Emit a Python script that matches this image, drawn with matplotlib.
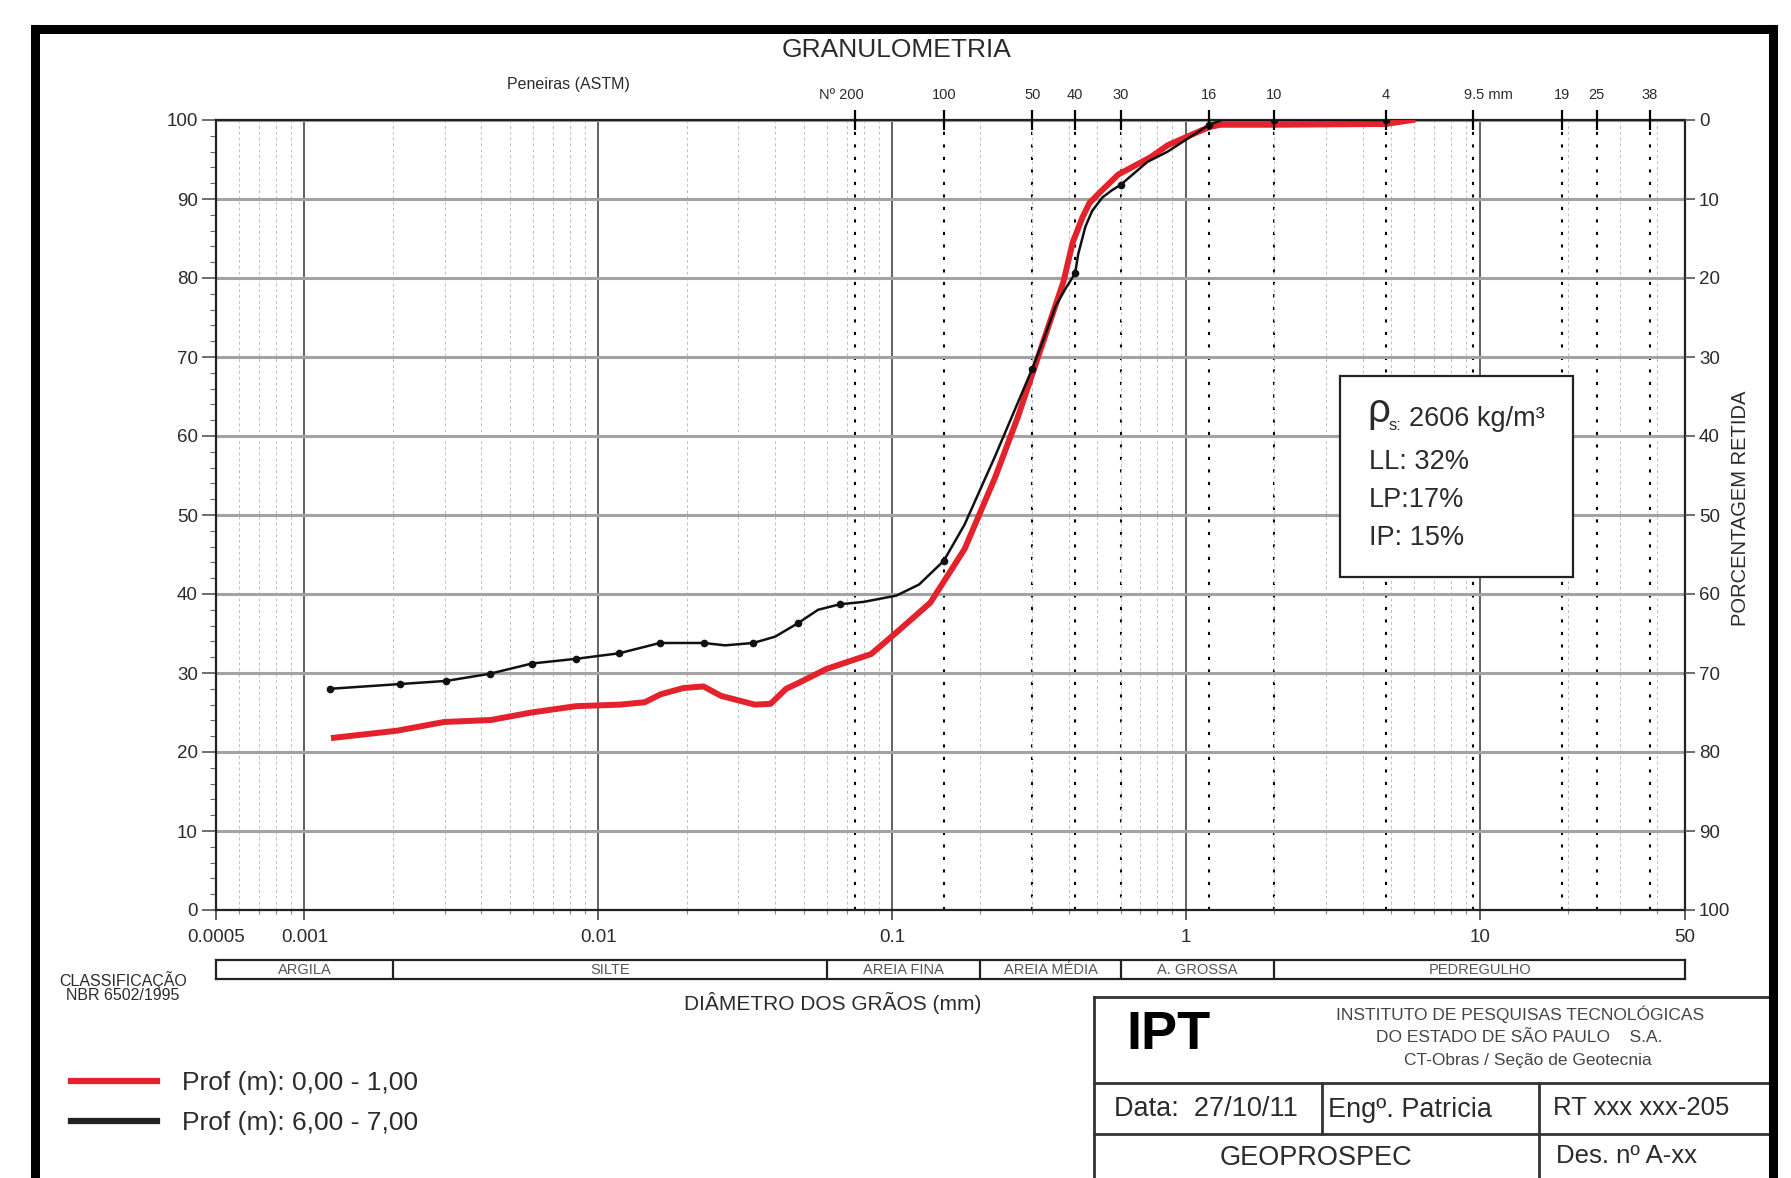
import matplotlib
matplotlib.use('Agg')
import matplotlib.pyplot as plt
from matplotlib.lines import Line2D
from matplotlib.patches import Rectangle
from matplotlib.ticker import MultipleLocator, LogLocator, NullLocator, NullFormatter

plt.rcParams['font.family'] = ['Liberation Sans', 'DejaVu Sans']

W, H = 1791, 1178


def fx(px):
    return px / W


def fy(py):
    return 1 - py / H


# ---- data ----
# Prof 6,00 - 7,00 m (black, measured points)
black_d = [0.00122, 0.00211, 0.00304, 0.00427, 0.00594, 0.00843, 0.0118, 0.0162,
           0.0229, 0.0337, 0.0478, 0.0664, 0.15, 0.30, 0.42, 0.60, 1.2, 2.0, 4.8]
black_p = [28.0, 28.6, 29.0, 29.9, 31.2, 31.8, 32.5, 33.8,
           33.8, 33.8, 36.3, 38.7, 44.2, 68.5, 80.6, 91.8, 99.4, 100.0, 100.0]
# traced black curve between the points
black_curve_d = [0.00122, 0.00211, 0.00304, 0.00427, 0.00594, 0.00843, 0.0118, 0.0162,
                 0.0229, 0.027, 0.0337, 0.040, 0.0478, 0.056, 0.0664, 0.080, 0.1035,
                 0.1236, 0.15, 0.1766, 0.224, 0.30, 0.33, 0.36, 0.39, 0.42, 0.43,
                 0.455, 0.48, 0.52, 0.56, 0.60, 0.74, 0.867, 1.04, 1.2, 1.33, 2.0, 4.8]
black_curve_p = [28.0, 28.6, 29.0, 29.9, 31.2, 31.8, 32.5, 33.8,
                 33.8, 33.5, 33.8, 34.6, 36.3, 38.0, 38.7, 39.0, 39.8,
                 41.2, 44.2, 48.8, 57.4, 68.5, 72.5, 76.4, 78.7, 80.6, 83.0,
                 86.5, 88.5, 90.2, 91.1, 91.8, 94.7, 96.0, 97.9, 99.4, 100.0, 100.0, 100.0]

# Prof 0,00 - 1,00 m (red)
red_d = [0.00126, 0.00207, 0.00299, 0.00431, 0.00592, 0.0084, 0.0119, 0.0144, 0.0163,
         0.0195, 0.0228, 0.0262, 0.0341, 0.0386, 0.0436, 0.0478, 0.0597, 0.0849, 0.104,
         0.135, 0.1766, 0.224, 0.268, 0.320, 0.383, 0.412, 0.445, 0.47, 0.515, 0.589,
         0.759, 0.867, 1.04, 1.2, 1.31, 2.0, 4.8, 5.9]
red_p = [21.8, 22.7, 23.8, 24.05, 25.0, 25.8, 26.0, 26.3, 27.3,
         28.1, 28.3, 27.1, 26.0, 26.1, 28.0, 28.7, 30.5, 32.4, 35.2,
         38.9, 45.7, 54.7, 62.4, 70.9, 79.5, 84.5, 87.7, 89.5, 91.0, 93.1,
         95.3, 96.8, 98.1, 99.1, 99.4, 99.4, 99.5, 100.0]

# ASTM sieves
sieve_d = [0.075, 0.15, 0.30, 0.42, 0.60, 1.2, 2.0, 4.8, 9.5, 19, 25, 38]
sieve_lab = ['Nº 200', '100', '50', '40', '30', '16', '10', '4', '9.5 mm', '19', '25', '38']
sieve_dx = [-14, 0, 0, 0, 0, 0, 0, 0, 15, 0, 0, 0]

x_ticks = [0.0005, 0.001, 0.01, 0.1, 1, 10, 50]
x_tick_lab = ['0.0005', '0.001', '0.01', '0.1', '1', '10', '50']

class_edges = [0.0005, 0.002, 0.06, 0.2, 0.6, 2.0, 50]
class_lab = ['ARGILA', 'SILTE', 'AREIA FINA', 'AREIA MÉDIA', 'A. GROSSA', 'PEDREGULHO']

legend_lab = ['Prof (m): 0,00 - 1,00', 'Prof (m): 6,00 - 7,00']
index_lab = ['LL: 32%', 'LP:17%', 'IP: 15%']

RED = '#e3222b'
TXT = '#2b2b2b'

fig = plt.figure(figsize=(W / 100, H / 100), dpi=100)

# ---- main chart ----
ax_l, ax_r_px, ax_t_px, ax_b = 216, 1685, 120, 910
ax = fig.add_axes([fx(ax_l), fy(ax_b), (ax_r_px - ax_l) / W, (ax_b - ax_t_px) / H])
ax.set_xscale('log')
ax.set_xlim(0.0005, 50)
ax.set_ylim(0, 100)

ax.set_xticks(x_ticks)
ax.set_xticklabels(x_tick_lab)
ax.xaxis.set_minor_locator(LogLocator(base=10, subs=(2, 3, 4, 5, 6, 7, 8, 9), numticks=20))
ax.xaxis.set_minor_formatter(NullFormatter())
ax.set_yticks(range(0, 101, 10))
ax.yaxis.set_minor_locator(MultipleLocator(2))

ax.tick_params(axis='x', which='major', direction='out', length=7, width=1.2,
               pad=7, labelsize=13.5, labelcolor=TXT, color='#444')
ax.tick_params(axis='x', which='minor', direction='out', length=3, width=0.8, color='#888')
ax.tick_params(axis='y', which='major', direction='out', length=10, width=1.2,
               pad=3, labelsize=13.5, labelcolor=TXT, color='#555')
ax.tick_params(axis='y', which='minor', direction='out', length=4, width=0.8, color='#666')

ax.grid(True, axis='y', which='major', color='#a3a3a3', lw=2.2)
ax.grid(True, axis='x', which='major', color='#555555', lw=1.3)
ax.grid(True, axis='x', which='minor', color='#bdbdbd', lw=0.7, linestyle=(0, (3, 3)))

for s in ax.spines.values():
    s.set_linewidth(1.6)
    s.set_color('#222')

for d in sieve_d:
    ax.axvline(d, color='black', lw=1.5, linestyle=(0, (1.5, 4.5)), zorder=1.5)

ax.plot(red_d, red_p, color=RED, lw=4.3, solid_joinstyle='round', zorder=3)
ax.plot(black_curve_d, black_curve_p, color='#111', lw=1.8, zorder=4)
ax.plot(black_d, black_p, 'o', color='#111', ms=4.5, zorder=5)

# right axis: percentage retained
ax_r = ax.twinx()
ax_r.set_ylim(100, 0)
ax_r.set_yticks(range(0, 101, 10))
ax_r.tick_params(axis='y', direction='out', length=7, width=1.2, pad=3,
                 labelsize=13.5, labelcolor=TXT, color='#555')
for s in ax_r.spines.values():
    s.set_visible(False)

# top axis: sieve marks
ax_t = ax.twiny()
ax_t.set_xscale('log')
ax_t.set_xlim(ax.get_xlim())
ax_t.set_xticks(sieve_d)
ax_t.set_xticklabels([])
ax_t.xaxis.set_minor_locator(NullLocator())
ax_t.tick_params(axis='x', direction='inout', length=14, width=1.6, color='black')
for s in ax_t.spines.values():
    s.set_visible(False)

for d, lab, dx in zip(sieve_d, sieve_lab, sieve_dx):
    ax.annotate(lab, xy=(d, 1), xycoords=ax.get_xaxis_transform(),
                xytext=(dx, 25), textcoords='offset pixels',
                ha='center', va='center', fontsize=10.5, color=TXT)

# ---- classification bar ----
cax = fig.add_axes([fx(ax_l), fy(979), (ax_r_px - ax_l) / W, 19 / H])
cax.set_xscale('log')
cax.set_xlim(0.0005, 50)
cax.set_ylim(0, 1)
cax.set_xticks([])
cax.set_yticks([])
cax.xaxis.set_minor_locator(NullLocator())
for s in cax.spines.values():
    s.set_linewidth(1.6)
    s.set_color('#222')
for e in class_edges[1:-1]:
    cax.axvline(e, color='#222', lw=1.6)
for a, b, lab in zip(class_edges[:-1], class_edges[1:], class_lab):
    cax.text((a * b) ** 0.5, 0.5, lab, ha='center', va='center', fontsize=10.5, color='#555')

# ---- texts around the chart ----
fig.text(fx(897), fy(50), 'GRANULOMETRIA', ha='center', va='center', fontsize=19, color=TXT)
fig.text(fx(568), fy(84), 'Peneiras (ASTM)', ha='center', va='center', fontsize=11.5, color=TXT)
fig.text(fx(1741), fy(508), 'PORCENTAGEM RETIDA', ha='center', va='center',
         rotation=90, fontsize=14.5, color=TXT)
fig.text(fx(123), fy(980), 'CLASSIFICAÇÃO', ha='center', va='center', fontsize=11.5, color=TXT)
fig.text(fx(123), fy(995), 'NBR 6502/1995', ha='center', va='center', fontsize=11.5, color=TXT)
fig.text(fx(833), fy(1003), 'DIÂMETRO DOS GRÃOS (mm)', ha='center', va='center',
         fontsize=15, color=TXT)

# legend
handles = [Line2D([], [], color=RED, lw=4.5), Line2D([], [], color='#222', lw=4.5)]
ax.legend(handles, legend_lab, loc='upper left', bbox_to_anchor=(fx(71), fy(1071)),
          bbox_transform=fig.transFigure, frameon=False, fontsize=19,
          handlelength=3.25, handletextpad=0.95, labelspacing=0.6,
          borderaxespad=0, borderpad=0, labelcolor=TXT)

# info box
fig.add_artist(Rectangle((fx(1340), fy(577)), 233 / W, 201 / H, transform=fig.transFigure,
                         facecolor='white', edgecolor='#222', lw=1.6, zorder=5))
fig.text(fx(1367), fy(411), 'ρ', ha='left', va='center', fontsize=29, color=TXT, zorder=6)
fig.text(fx(1389), fy(426), 's:', ha='left', va='center', fontsize=12, color=TXT, zorder=6)
fig.text(fx(1409), fy(419), '2606 kg/m³', ha='left', va='center', fontsize=19.5, color=TXT, zorder=6)
for i, t in enumerate(index_lab):
    fig.text(fx(1369), fy(462 + 38 * i), t, ha='left', va='center', fontsize=19.5,
             color=TXT, zorder=6)

# title block
blk = dict(color='#333', lw=2, transform=fig.transFigure)
for y in [997, 1083, 1134]:
    fig.add_artist(Line2D([fx(1094), fx(1770)], [fy(y), fy(y)], **blk))
fig.add_artist(Line2D([fx(1094), fx(1094)], [fy(997), fy(1178)], **blk))
fig.add_artist(Line2D([fx(1322), fx(1322)], [fy(1083), fy(1134)], **blk))
fig.add_artist(Line2D([fx(1539), fx(1539)], [fy(1083), fy(1178)], **blk))

fig.text(fx(1169), fy(1035), 'IPT', ha='center', va='center', fontsize=39,
         fontweight='bold', color='black')
fig.text(fx(1520), fy(1014), 'INSTITUTO DE PESQUISAS TECNOLÓGICAS', ha='center',
         va='center', fontsize=12.5, color='#444')
fig.text(fx(1519), fy(1038), 'DO ESTADO DE SÃO PAULO    S.A.', ha='center',
         va='center', fontsize=12.5, color='#444')
fig.text(fx(1528), fy(1061), 'CT-Obras / Seção de Geotecnia', ha='center',
         va='center', fontsize=12.5, color='#444')
fig.text(fx(1206), fy(1109), 'Data:  27/10/11', ha='center', va='center', fontsize=19.5, color=TXT)
fig.text(fx(1328), fy(1110), 'Engº. Patricia', ha='left', va='center', fontsize=19.5, color=TXT)
fig.text(fx(1553), fy(1108), 'RT xxx xxx-205', ha='left', va='center', fontsize=18.5, color=TXT)
fig.text(fx(1316), fy(1158), 'GEOPROSPEC', ha='center', va='center', fontsize=19.5, color=TXT)
fig.text(fx(1556), fy(1156), 'Des. nº A-xx', ha='left', va='center', fontsize=18.5, color=TXT)

# page frame
frm = dict(color='black', lw=6.5, transform=fig.transFigure, solid_capstyle='projecting')
fig.add_artist(Line2D([fx(35), fx(35)], [fy(29), fy(1180)], **frm))
fig.add_artist(Line2D([fx(35), fx(1773)], [fy(29), fy(29)], **frm))
fig.add_artist(Line2D([fx(1773), fx(1773)], [fy(29), fy(1180)], **frm))

fig.savefig('out.png', dpi=100)
